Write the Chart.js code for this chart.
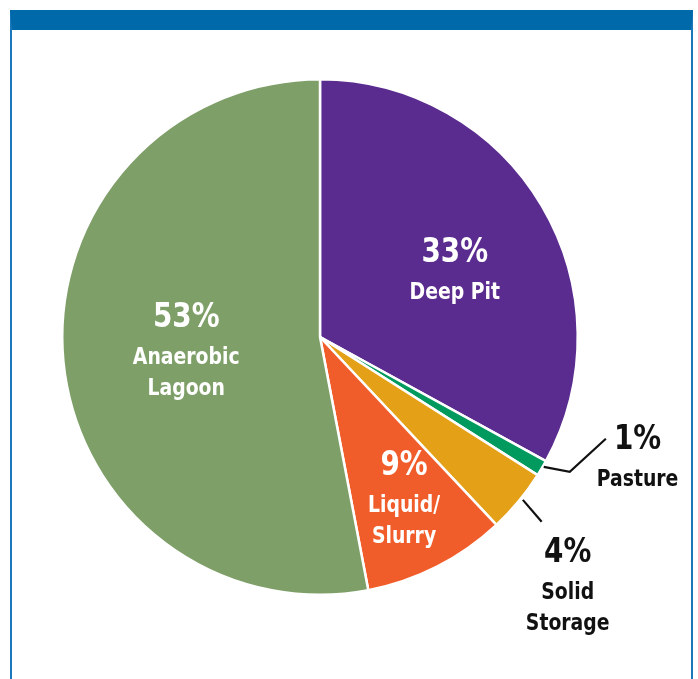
<!DOCTYPE html>
<html>
<head>
<meta charset="utf-8">
<script src="https://cdn.jsdelivr.net/npm/chart.js"></script>
<style>
  html, body { margin: 0; padding: 0; background: #fff; }
  #wrap { position: relative; width: 698px; height: 679px; overflow: hidden; }
  #frame {
    position: absolute; left: 10px; top: 10px; width: 679px; height: 700px;
    border-left: 2px solid #1a78bb; border-right: 2px solid #1a78bb;
    border-top: 20px solid #0069aa;
  }
  #chart { position: absolute; left: 0; top: 0; }
</style>
</head>
<body>
<div id="wrap">
  <div id="frame"></div>
  <canvas id="chart" width="698" height="679"></canvas>
</div>
<script>
// Slices, clockwise from 12 o'clock
const categories = ['Deep Pit', 'Pasture', 'Solid Storage', 'Liquid/Slurry', 'Anaerobic Lagoon'];
const shares = [33, 1, 4, 9, 53];
const sliceColors = ['#5b2c8f', '#00995e', '#e4a118', '#f15d2a', '#7f9f69'];
// label text lines under the percentage
const labelLines = [['Deep Pit'], ['Pasture'], ['Solid', 'Storage'], ['Liquid/', 'Slurry'], ['Anaerobic', 'Lagoon']];

const FONT = '"DejaVu Sans Condensed", "Liberation Sans Narrow", sans-serif';
const SQUEEZE = 0.91; // the original type is narrower than anything installed

// label placement, as offsets from the pie centre in units of the radius
const labelSpots = [
    { x: 0.523, y: -0.325, color: '#fff' },  // Deep Pit
    { x: 1.232, y: 0.400, color: '#111' },   // Pasture
    { x: 0.961, y: 0.838, color: '#111' },   // Solid Storage
    { x: 0.326, y: 0.500, color: '#fff' },   // Liquid/Slurry
    { x: -0.519, y: -0.072, color: '#fff' }  // Anaerobic Lagoon
];

function squeezedText(ctx, text, x, y) {
    ctx.save();
    ctx.translate(x, y);
    ctx.scale(SQUEEZE, 1);
    ctx.fillText(text, 0, 0);
    ctx.restore();
}

const pieLabels = {
    id: 'pieLabels',
    afterDatasetsDraw(chart) {
        const ctx = chart.ctx;
        const arc = chart.getDatasetMeta(0).data[0];
        const cx = arc.x, cy = arc.y, R = arc.outerRadius;

        // leader lines for the two thin slices
        ctx.save();
        ctx.strokeStyle = '#111';
        ctx.lineWidth = 2.2;
        ctx.beginPath();
        ctx.moveTo(cx + 0.868 * R, cy + 0.504 * R);
        ctx.lineTo(cx + 0.969 * R, cy + 0.523 * R);
        ctx.lineTo(cx + 1.109 * R, cy + 0.395 * R);
        ctx.stroke();
        ctx.beginPath();
        ctx.moveTo(cx + 0.787 * R, cy + 0.632 * R);
        ctx.lineTo(cx + 0.860 * R, cy + 0.717 * R);
        ctx.stroke();

        ctx.textAlign = 'center';
        ctx.textBaseline = 'middle';
        shares.forEach((v, i) => {
            const s = labelSpots[i];
            const x = cx + s.x * R, y = cy + s.y * R;
            ctx.fillStyle = s.color;
            ctx.font = 'bold 34px ' + FONT;
            squeezedText(ctx, v + '%', x, y);
            ctx.font = 'bold 23px ' + FONT;
            labelLines[i].forEach((t, j) => {
                squeezedText(ctx, t, x, y + 40 + j * 31);
            });
        });
        ctx.restore();
    }
};

new Chart(document.getElementById('chart'), {
    type: 'pie',
    data: {
        labels: categories,
        datasets: [{
            data: shares,
            backgroundColor: sliceColors,
            borderColor: '#fff',
            borderWidth: 2.5
        }]
    },
    options: {
        responsive: false,
        animation: false,
        layout: { padding: { left: 61, right: 119, top: 78, bottom: 83 } },
        plugins: {
            legend: { display: false },
            tooltip: { enabled: false }
        }
    },
    plugins: [pieLabels]
});
</script>
</body>
</html>
